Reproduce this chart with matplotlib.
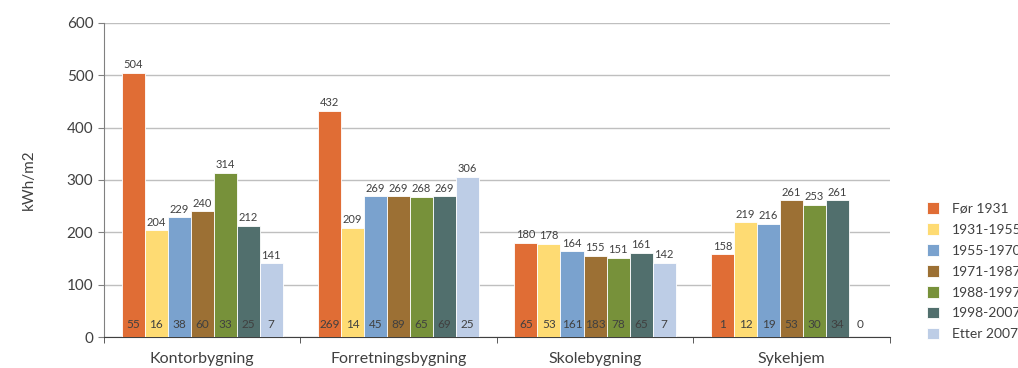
import numpy as np
import matplotlib
matplotlib.use("Agg")
import matplotlib.pyplot as plt

plt.rcParams['font.family'] = ['Lato', 'DejaVu Sans']

# --- data ---
categories = ["Kontorbygning", "Forretningsbygning", "Skolebygning", "Sykehjem"]
periods = ["Før 1931", "1931-1955", "1955-1970", "1971-1987", "1988-1997", "1998-2007", "Etter 2007"]

# kWh/m2 per period, one list per category
kontor = [504, 204, 229, 240, 314, 212, 141]
forretning = [432, 209, 269, 269, 268, 269, 306]
skole = [180, 178, 164, 155, 151, 161, 142]
sykehjem = [158, 219, 216, 261, 253, 261, 0]

# number of buildings (printed at bottom of bars)
n_kontor = [55, 16, 38, 60, 33, 25, 7]
n_forretning = [269, 14, 45, 89, 65, 69, 25]
n_skole = [65, 53, 161, 183, 78, 65, 7]
n_sykehjem = [1, 12, 19, 53, 30, 34, 0]

colors = ["#E06D35", "#FEDB73", "#7AA2CE", "#9C7034", "#77913A", "#516F6D", "#BDCDE6"]

values = np.array([kontor, forretning, skole, sykehjem])
counts = np.array([n_kontor, n_forretning, n_skole, n_sykehjem])

fig = plt.figure(figsize=(10.18, 3.68), dpi=100)
ax = fig.add_axes([0.102, 0.084, 0.772, 0.854])

x = np.arange(len(categories))
group_w = 0.82
bw = group_w / len(periods)

for j, p in enumerate(periods):
    pos = x - group_w / 2 + bw * (j + 0.5)
    ax.bar(pos, values[:, j], width=bw, color=colors[j], edgecolor="white",
           linewidth=0.6, label=p, zorder=3)
    for i in range(len(categories)):
        if values[i, j] > 0:
            ax.text(pos[i], values[i, j] + 5, str(values[i, j]), ha="center",
                    va="bottom", fontsize=8, color="#404040", zorder=4)
        ax.text(pos[i], 24, str(counts[i, j]), ha="center", va="center",
                fontsize=8.5, color="#404040", zorder=4)

ax.set_xlim(-0.5, len(categories) - 0.5)
ax.set_ylim(0, 600)
ax.set_yticks(range(0, 601, 100))
ax.set_xticks(x)
ax.set_xticklabels(categories, fontsize=11.5, color="#404040")
ax.set_xticks(np.arange(-0.5, len(categories) + 0.5, 1), minor=True)
ax.tick_params(axis="x", which="major", length=0, pad=11)
ax.tick_params(axis="x", which="minor", length=4, color="#404040")
ax.tick_params(axis="y", labelsize=11, labelcolor="#404040", length=4, color="#808080")
ax.set_ylabel("kWh/m2", fontsize=11, color="#404040", labelpad=22)

ax.grid(axis="y", color="#BFBFBF", linewidth=1, zorder=0)
for s in ["top", "right"]:
    ax.spines[s].set_visible(False)
ax.spines["left"].set_color("#808080")
ax.spines["bottom"].set_color("#404040")

handles, labels = ax.get_legend_handles_labels()
fig.legend(handles, labels, loc="upper left", bbox_to_anchor=(0.905, 0.465),
           frameon=False, fontsize=10, handlelength=0.9, handleheight=0.9,
           handletextpad=0.9, labelspacing=0.6, borderaxespad=0,
           labelcolor="#404040")

fig.savefig("out.png", dpi=100)
